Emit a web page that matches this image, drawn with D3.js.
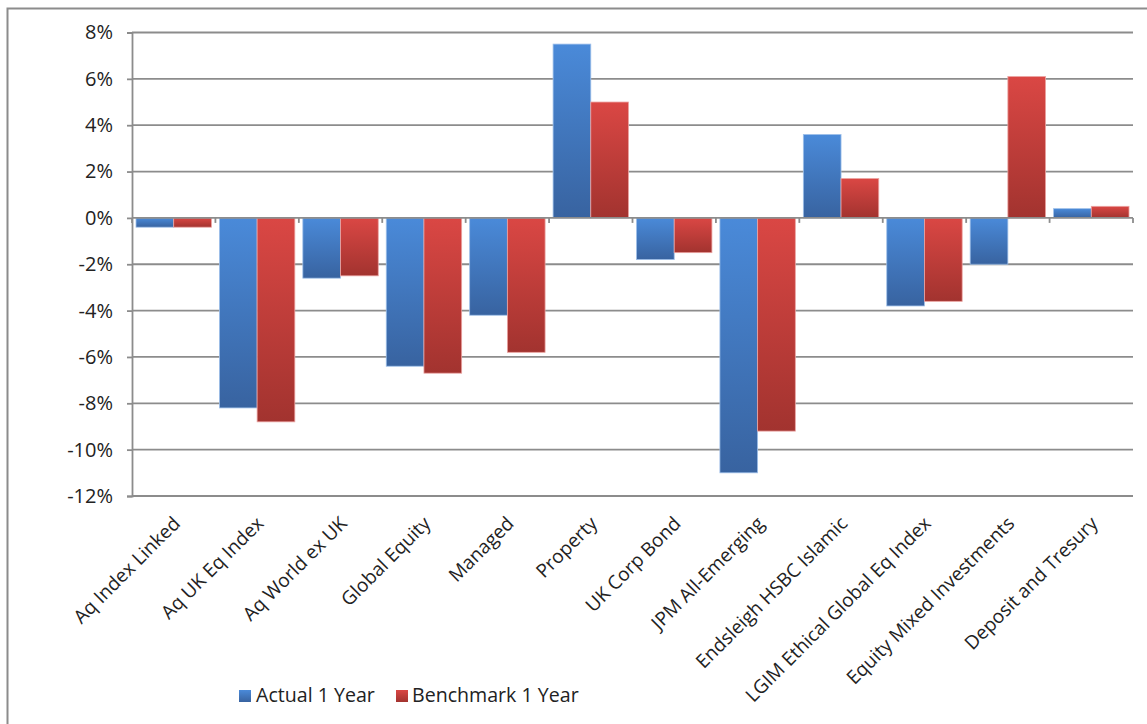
<!DOCTYPE html>
<html>
<head>
<meta charset="utf-8">
<script src="https://cdn.jsdelivr.net/npm/d3@7"></script>
<style>
  html, body { margin: 0; padding: 0; background: #fff; }
  svg { display: block; font-family: "Open Sans", "Noto Sans", sans-serif; }
</style>
</head>
<body>
<svg id="chart" width="1147" height="724"></svg>
<script>
// Fund names along the category axis
const categories = [
  "Aq Index Linked", "Aq UK Eq Index", "Aq World ex UK", "Global Equity",
  "Managed", "Property", "UK Corp Bond", "JPM All-Emerging",
  "Endsleigh HSBC Islamic", "LGIM Ethical Global Eq Index",
  "Equity Mixed Investments", "Deposit and Tresury"
];
// One-year returns, in percent
const actual1Year    = [-0.4, -8.2, -2.6, -6.4, -4.2, 7.5, -1.8, -11.0, 3.6, -3.8, -2.0, 0.4];
const benchmark1Year = [-0.4, -8.8, -2.5, -6.7, -5.8, 5.0, -1.5, -9.2, 1.7, -3.6, 6.1, 0.5];
const seriesNames = ["Actual 1 Year", "Benchmark 1 Year"];
const yTicks = [8, 6, 4, 2, 0, -2, -4, -6, -8, -10, -12];

const svg = d3.select("#chart");
const gridColor = "#8c8c8c";
const textColor = "#222";

const plot = { left: 132, right: 1133, top: 32.5, bottom: 496 };

const x0 = d3.scaleBand().domain(d3.range(categories.length))
  .range([plot.left, plot.right]).padding(0);
const inset = 4;
const x1 = d3.scaleBand().domain([0, 1])
  .range([inset, x0.bandwidth() - inset]).padding(0);
const y = d3.scaleLinear().domain([-12, 8]).range([plot.bottom, plot.top]);

// Gradients for the bar fills (light at the top, darker at the bottom)
const defs = svg.append("defs");
const palettes = [
  { id: "gradBlue", top: "#4a8ad9", bottom: "#3863a0", edge: "#9fc0ea" },
  { id: "gradRed",  top: "#da4744", bottom: "#a2332f", edge: "#eba3a1" }
];
palettes.forEach(p => {
  const g = defs.append("linearGradient").attr("id", p.id)
    .attr("x1", 0).attr("y1", 0).attr("x2", 0).attr("y2", 1);
  g.append("stop").attr("offset", "0%").attr("stop-color", p.top);
  g.append("stop").attr("offset", "100%").attr("stop-color", p.bottom);
});

// Outer chart frame
svg.append("rect")
  .attr("x", 7.5).attr("y", 8.5).attr("width", 1200).attr("height", 800)
  .attr("fill", "none").attr("stroke", gridColor).attr("stroke-width", 2);

// Horizontal gridlines
svg.append("g").selectAll("line").data(yTicks.filter(t => t !== 0)).join("line")
  .attr("x1", plot.left).attr("x2", plot.right)
  .attr("y1", d => y(d)).attr("y2", d => y(d))
  .attr("stroke", gridColor).attr("stroke-width", 1.8);

// Value axis
const yAxis = d3.axisLeft(y).tickValues(yTicks)
  .tickFormat(d => d + "%").tickSize(5).tickPadding(14);
const yg = svg.append("g").attr("transform", `translate(${plot.left},0)`).call(yAxis);
yg.select(".domain").attr("stroke", gridColor).attr("stroke-width", 1.8);
yg.selectAll(".tick line").attr("stroke", gridColor).attr("stroke-width", 1.8);
yg.selectAll(".tick text").attr("fill", textColor)
  .attr("font-size", 20).attr("font-family", "'Open Sans', sans-serif");

// Bars
const series = [actual1Year, benchmark1Year];
const barsG = svg.append("g");
series.forEach((vals, s) => {
  barsG.append("g").selectAll("rect").data(vals).join("rect")
    .attr("x", (d, i) => x0(i) + x1(s))
    .attr("width", x1.bandwidth())
    .attr("y", d => y(Math.max(0, d)))
    .attr("height", d => Math.abs(y(d) - y(0)))
    .attr("fill", `url(#${palettes[s].id})`)
    .attr("stroke", palettes[s].edge).attr("stroke-width", 0.8);
});

// Category axis along zero
const boundaries = d3.range(categories.length + 1).map(i => plot.left + i * x0.bandwidth());
svg.append("line")
  .attr("x1", plot.left).attr("x2", plot.right)
  .attr("y1", y(0)).attr("y2", y(0))
  .attr("stroke", gridColor).attr("stroke-width", 1.8);
svg.append("g").selectAll("line").data(boundaries).join("line")
  .attr("x1", d => d).attr("x2", d => d)
  .attr("y1", y(0)).attr("y2", y(0) + 5)
  .attr("stroke", gridColor).attr("stroke-width", 1.8);

// Rotated category labels
svg.append("g").selectAll("text").data(categories).join("text")
  .attr("transform", (d, i) => `translate(${x0(i) + x0.bandwidth() / 2 - 2},${plot.bottom + 19}) rotate(-45)`)
  .attr("text-anchor", "end")
  .attr("dy", "0.72em")
  .attr("fill", textColor)
  .attr("font-size", 19)
  .text(d => d);

// Legend
const legendItems = [
  { name: seriesNames[0], sx: 239, tx: 256, grad: palettes[0].id },
  { name: seriesNames[1], sx: 396, tx: 412, grad: palettes[1].id }
];
const lg = svg.append("g");
legendItems.forEach(it => {
  lg.append("rect").attr("x", it.sx).attr("y", 690).attr("width", 12).attr("height", 12)
    .attr("fill", `url(#${it.grad})`);
  lg.append("text").attr("x", it.tx).attr("y", 702)
    .attr("fill", textColor).attr("font-size", 19.6).text(it.name);
});
</script>
</body>
</html>
